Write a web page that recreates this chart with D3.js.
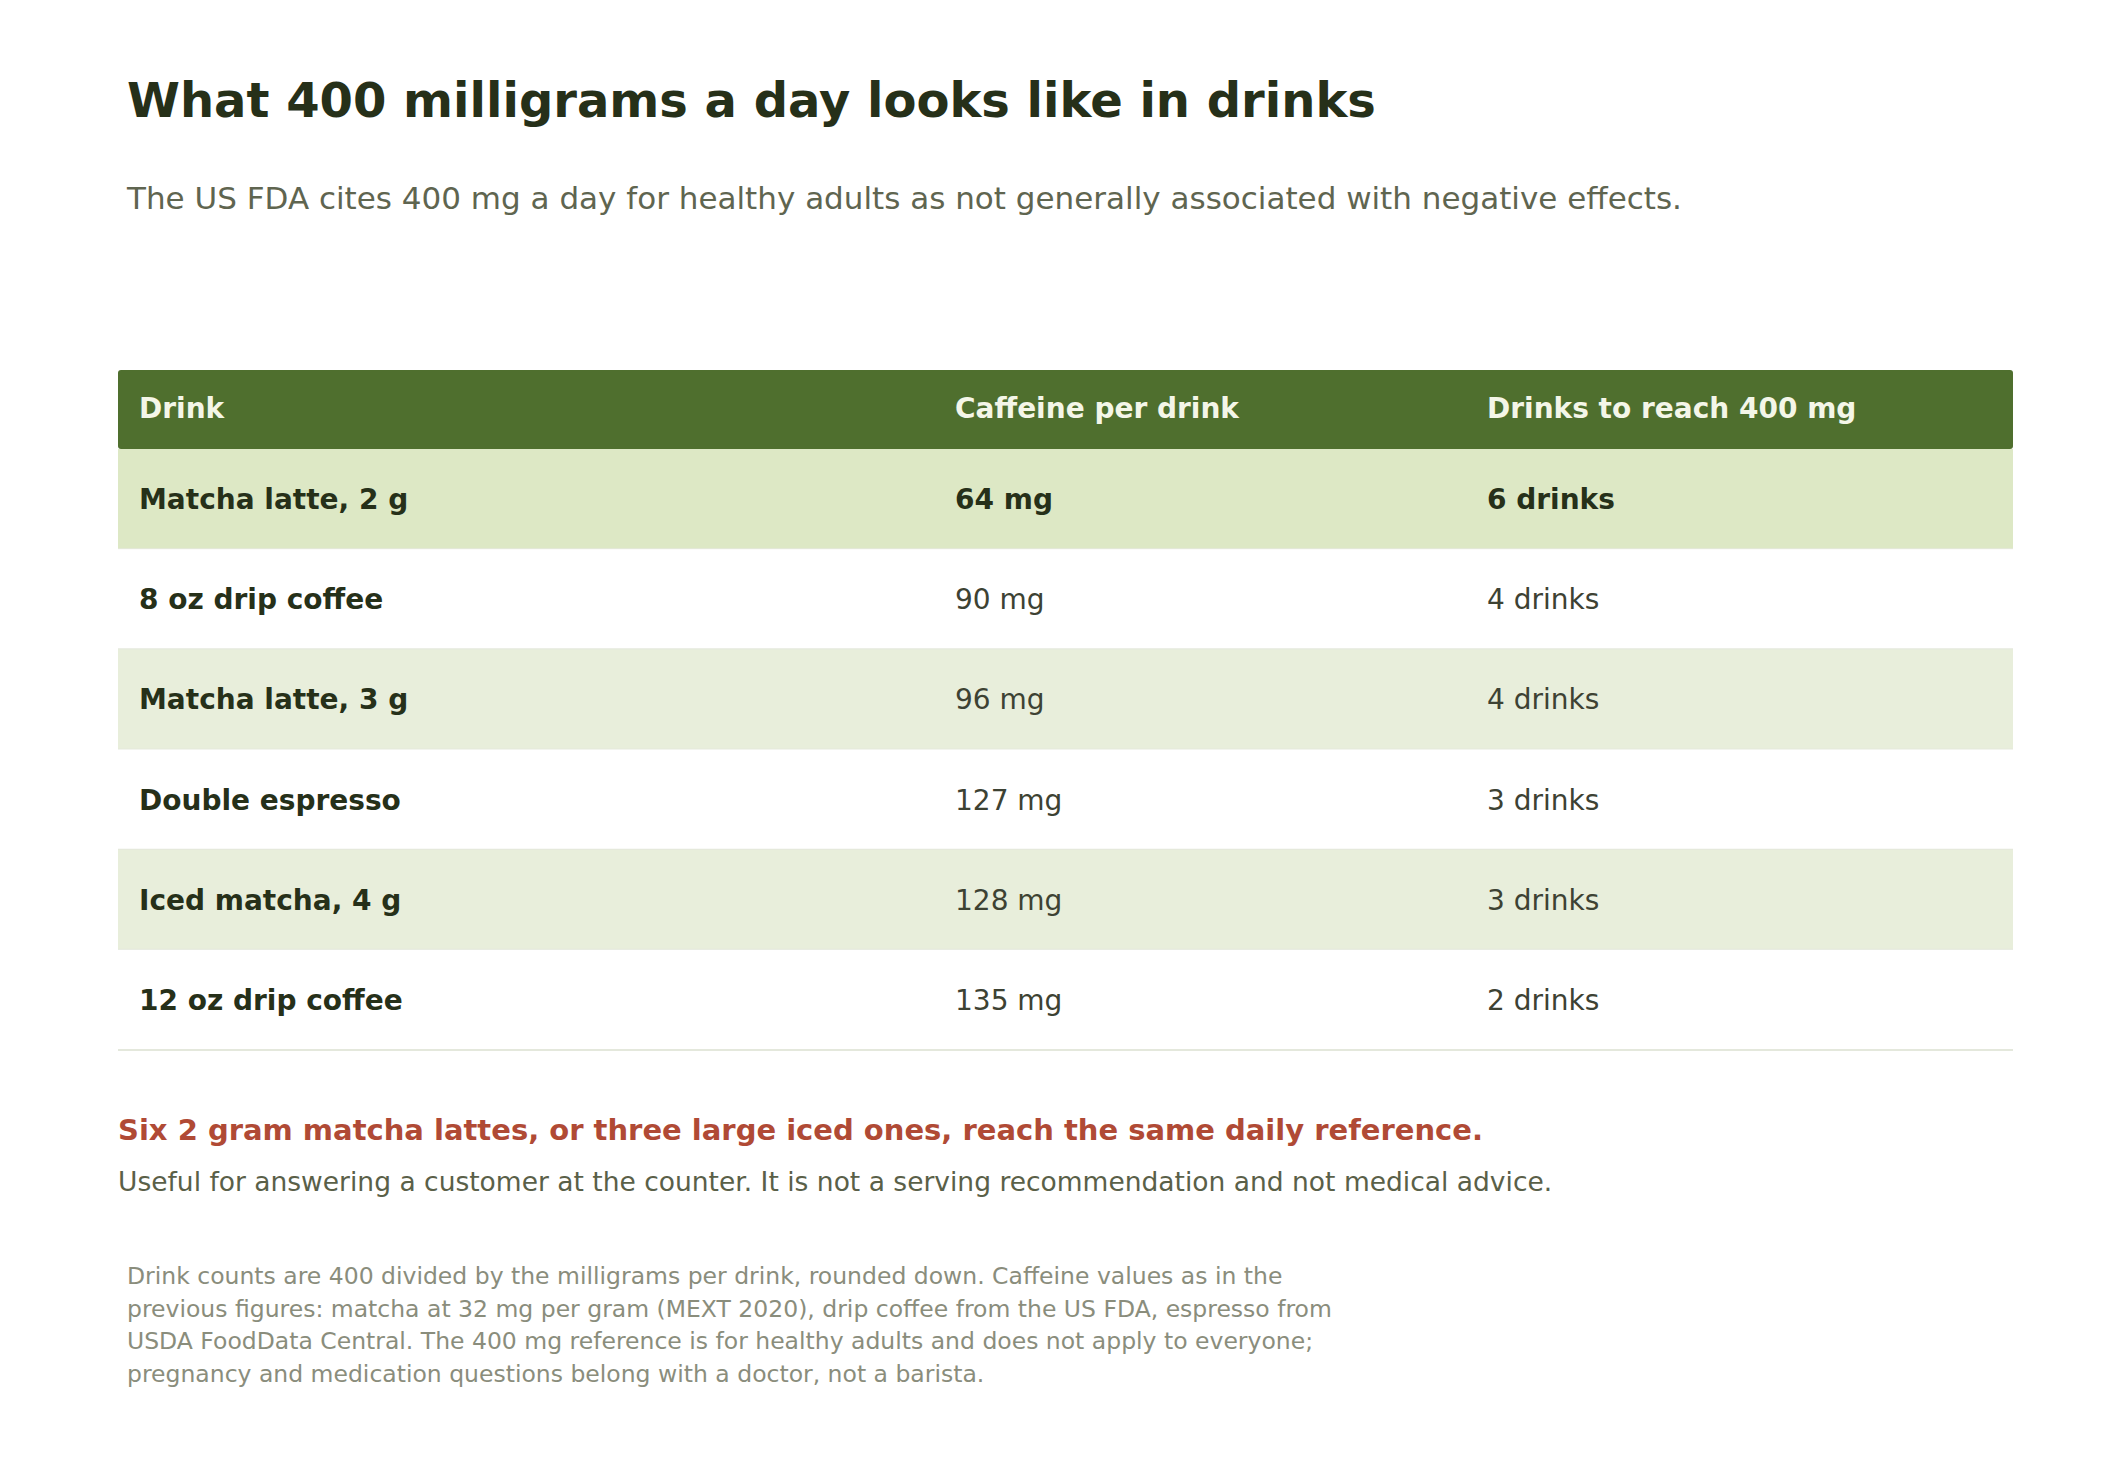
<!DOCTYPE html><html><head><meta charset="utf-8">
<script src="https://cdn.jsdelivr.net/npm/d3@7"></script>
<style>body{margin:0;background:#fff}svg{font-family:"DejaVu Sans",sans-serif}</style></head><body>
<svg id="c" width="2120" height="1480"></svg>
<script>
const drinks=["Matcha latte, 2 g","8 oz drip coffee","Matcha latte, 3 g","Double espresso","Iced matcha, 4 g","12 oz drip coffee"];
const caffeine=[64,90,96,127,128,135];
const counts=[6,4,4,3,3,2];
const headers=["Drink","Caffeine per drink","Drinks to reach 400 mg"];
const notes=["Drink counts are 400 divided by the milligrams per drink, rounded down. Caffeine values as in the","previous figures: matcha at 32 mg per gram (MEXT 2020), drip coffee from the US FDA, espresso from","USDA FoodData Central. The 400 mg reference is for healthy adults and does not apply to everyone;","pregnancy and medication questions belong with a doctor, not a barista."];
const svg=d3.select("#c");
svg.append("text").attr("x",127).attr("y",117).attr("font-size",48).attr("font-weight","bold").attr("fill","#263019").text("What 400 milligrams a day looks like in drinks");
svg.append("text").attr("x",127).attr("y",209).attr("font-size",31).attr("fill","#5f6550").text("The US FDA cites 400 mg a day for healthy adults as not generally associated with negative effects.");
const L=118,R=2013,colX=[139,955,1487];
const y=d3.scaleBand().domain(d3.range(drinks.length)).range([449,1050]);
svg.append("rect").attr("x",L).attr("y",370).attr("width",R-L).attr("height",79).attr("rx",3).attr("fill","#4f6f2e");
headers.forEach((h,i)=>svg.append("text").attr("x",colX[i]).attr("y",418).attr("font-size",28).attr("font-weight","bold").attr("fill","#f4f6e8").text(h));
drinks.forEach((d,i)=>{
 const g=svg.append("g");
 g.append("rect").attr("x",L).attr("y",y(i)).attr("width",R-L).attr("height",y.bandwidth()).attr("fill",i==0?"#dde8c5":(i%2==0?"#e8eedb":"#fff"));
 g.append("line").attr("x1",L).attr("x2",R).attr("y1",y(i)+y.bandwidth()).attr("y2",y(i)+y.bandwidth()).attr("stroke","#e4e8dc").attr("stroke-width",2);
 const ty=y(i)+y.bandwidth()/2+10;
 const vals=[d,caffeine[i]+" mg",counts[i]+" drinks"];
 vals.forEach((v,j)=>g.append("text").attr("x",colX[j]).attr("y",ty).attr("font-size",28).attr("font-weight",(j==0||i==0)?"bold":"normal").attr("fill",(j==0||i==0)?"#263019":"#3d4233").text(v));
});
svg.append("text").attr("x",118).attr("y",1140).attr("font-size",29).attr("font-weight","bold").attr("fill","#b04a35").text("Six 2 gram matcha lattes, or three large iced ones, reach the same daily reference.");
svg.append("text").attr("x",118).attr("y",1191).attr("font-size",26.5).attr("fill","#5a6048").text("Useful for answering a customer at the counter. It is not a serving recommendation and not medical advice.");
notes.forEach((n,i)=>svg.append("text").attr("x",127).attr("y",1284+i*32.6).attr("font-size",23.5).attr("fill","#8a8d7c").text(n));
</script></body></html>
